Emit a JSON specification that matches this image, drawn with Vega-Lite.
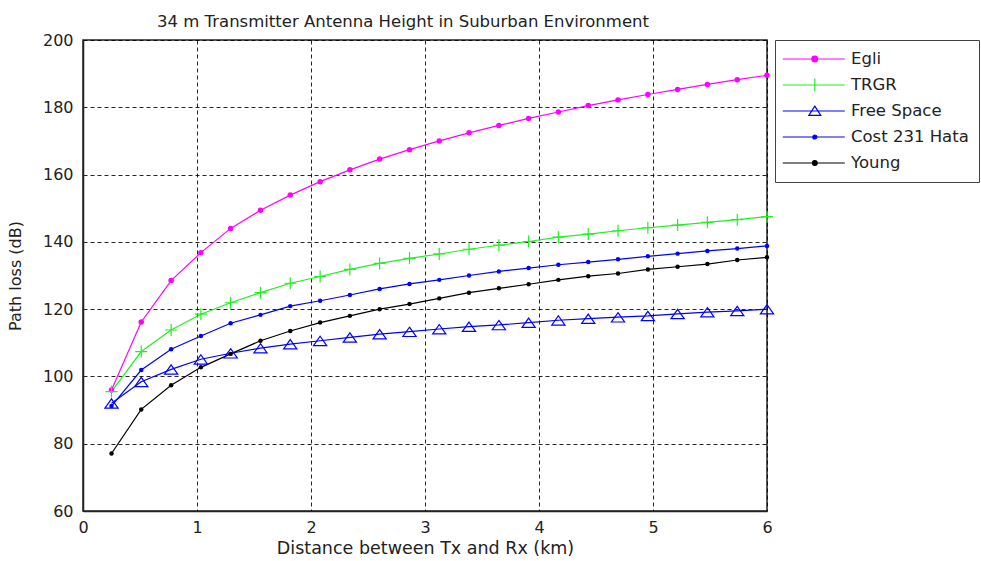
{
  "$schema": "https://vega.github.io/schema/vega-lite/v6.json",
  "width": 684,
  "height": 471,
  "autosize": {"type": "none"},
  "padding": {"left": 83, "top": 40, "right": 214, "bottom": 50},
  "title": {"text": "34 m Transmitter Antenna Height in Suburban Environment", "fontSize": 16.5, "fontWeight": "normal", "font": "DejaVu Sans", "color": "#222", "baseline": "alphabetic", "offset": 13, "dy": 24, "dx": -22},
  "data": {"values": [
    {"s":"Egli","d":0.25,"v":96},{"s":"Egli","d":0.511,"v":116.2},{"s":"Egli","d":0.773,"v":128.5},{"s":"Egli","d":1.034,"v":136.8},{"s":"Egli","d":1.295,"v":144},{"s":"Egli","d":1.557,"v":149.4},{"s":"Egli","d":1.818,"v":153.9},{"s":"Egli","d":2.08,"v":157.9},{"s":"Egli","d":2.341,"v":161.4},{"s":"Egli","d":2.602,"v":164.6},{"s":"Egli","d":2.864,"v":167.4},{"s":"Egli","d":3.125,"v":170},{"s":"Egli","d":3.386,"v":172.4},{"s":"Egli","d":3.648,"v":174.6},{"s":"Egli","d":3.909,"v":176.7},{"s":"Egli","d":4.17,"v":178.6},{"s":"Egli","d":4.432,"v":180.5},{"s":"Egli","d":4.693,"v":182.2},{"s":"Egli","d":4.955,"v":183.8},{"s":"Egli","d":5.216,"v":185.3},{"s":"Egli","d":5.477,"v":186.8},{"s":"Egli","d":5.739,"v":188.2},{"s":"Egli","d":6.0,"v":189.5},
    {"s":"TRGR","d":0.25,"v":95.5},{"s":"TRGR","d":0.511,"v":107.4},{"s":"TRGR","d":0.773,"v":113.8},{"s":"TRGR","d":1.034,"v":118.5},{"s":"TRGR","d":1.295,"v":121.9},{"s":"TRGR","d":1.557,"v":124.9},{"s":"TRGR","d":1.818,"v":127.7},{"s":"TRGR","d":2.08,"v":129.7},{"s":"TRGR","d":2.341,"v":131.8},{"s":"TRGR","d":2.602,"v":133.6},{"s":"TRGR","d":2.864,"v":135.1},{"s":"TRGR","d":3.125,"v":136.4},{"s":"TRGR","d":3.386,"v":137.8},{"s":"TRGR","d":3.648,"v":139},{"s":"TRGR","d":3.909,"v":140.1},{"s":"TRGR","d":4.17,"v":141.4},{"s":"TRGR","d":4.432,"v":142.3},{"s":"TRGR","d":4.693,"v":143.3},{"s":"TRGR","d":4.955,"v":144.2},{"s":"TRGR","d":5.216,"v":145},{"s":"TRGR","d":5.477,"v":145.8},{"s":"TRGR","d":5.739,"v":146.6},{"s":"TRGR","d":6.0,"v":147.5},
    {"s":"Free Space","d":0.25,"v":92},{"s":"Free Space","d":0.511,"v":98.4},{"s":"Free Space","d":0.773,"v":102.1},{"s":"Free Space","d":1.034,"v":105.1},{"s":"Free Space","d":1.295,"v":106.9},{"s":"Free Space","d":1.557,"v":108.4},{"s":"Free Space","d":1.818,"v":109.6},{"s":"Free Space","d":2.08,"v":110.6},{"s":"Free Space","d":2.341,"v":111.6},{"s":"Free Space","d":2.602,"v":112.6},{"s":"Free Space","d":2.864,"v":113.3},{"s":"Free Space","d":3.125,"v":114.1},{"s":"Free Space","d":3.386,"v":114.8},{"s":"Free Space","d":3.648,"v":115.3},{"s":"Free Space","d":3.909,"v":116},{"s":"Free Space","d":4.17,"v":116.7},{"s":"Free Space","d":4.432,"v":117.2},{"s":"Free Space","d":4.693,"v":117.6},{"s":"Free Space","d":4.955,"v":118},{"s":"Free Space","d":5.216,"v":118.6},{"s":"Free Space","d":5.477,"v":119.1},{"s":"Free Space","d":5.739,"v":119.5},{"s":"Free Space","d":6.0,"v":120},
    {"s":"Cost 231 Hata","d":0.25,"v":91.2},{"s":"Cost 231 Hata","d":0.511,"v":101.9},{"s":"Cost 231 Hata","d":0.773,"v":108.1},{"s":"Cost 231 Hata","d":1.034,"v":112},{"s":"Cost 231 Hata","d":1.295,"v":115.8},{"s":"Cost 231 Hata","d":1.557,"v":118.3},{"s":"Cost 231 Hata","d":1.818,"v":120.9},{"s":"Cost 231 Hata","d":2.08,"v":122.5},{"s":"Cost 231 Hata","d":2.341,"v":124.2},{"s":"Cost 231 Hata","d":2.602,"v":126},{"s":"Cost 231 Hata","d":2.864,"v":127.5},{"s":"Cost 231 Hata","d":3.125,"v":128.7},{"s":"Cost 231 Hata","d":3.386,"v":130},{"s":"Cost 231 Hata","d":3.648,"v":131.2},{"s":"Cost 231 Hata","d":3.909,"v":132.2},{"s":"Cost 231 Hata","d":4.17,"v":133.2},{"s":"Cost 231 Hata","d":4.432,"v":134},{"s":"Cost 231 Hata","d":4.693,"v":134.8},{"s":"Cost 231 Hata","d":4.955,"v":135.7},{"s":"Cost 231 Hata","d":5.216,"v":136.5},{"s":"Cost 231 Hata","d":5.477,"v":137.3},{"s":"Cost 231 Hata","d":5.739,"v":138},{"s":"Cost 231 Hata","d":6.0,"v":138.8},
    {"s":"Young","d":0.25,"v":77.1},{"s":"Young","d":0.511,"v":90.2},{"s":"Young","d":0.773,"v":97.4},{"s":"Young","d":1.034,"v":102.7},{"s":"Young","d":1.295,"v":106.7},{"s":"Young","d":1.557,"v":110.6},{"s":"Young","d":1.818,"v":113.5},{"s":"Young","d":2.08,"v":116},{"s":"Young","d":2.341,"v":118},{"s":"Young","d":2.602,"v":120},{"s":"Young","d":2.864,"v":121.5},{"s":"Young","d":3.125,"v":123.2},{"s":"Young","d":3.386,"v":124.9},{"s":"Young","d":3.648,"v":126.2},{"s":"Young","d":3.909,"v":127.4},{"s":"Young","d":4.17,"v":128.7},{"s":"Young","d":4.432,"v":129.8},{"s":"Young","d":4.693,"v":130.6},{"s":"Young","d":4.955,"v":131.8},{"s":"Young","d":5.216,"v":132.6},{"s":"Young","d":5.477,"v":133.4},{"s":"Young","d":5.739,"v":134.6},{"s":"Young","d":6.0,"v":135.4}
  ]},
  "encoding": {
    "x": {"field": "d", "type": "quantitative", "scale": {"domain": [0, 6], "nice": false},
      "axis": {"title": "Distance between Tx and Rx (km)", "values": [0,1,2,3,4,5,6], "labelFlush": false, "labelPadding": 8, "titlePadding": 4, "titleFontSize": 17.5}},
    "y": {"field": "v", "type": "quantitative", "scale": {"domain": [60, 200], "nice": false, "zero": false},
      "axis": {"title": "Path loss (dB)", "values": [60,80,100,120,140,160,180,200], "labelFlush": false, "labelPadding": 10, "titlePadding": 19, "titleFontSize": 16}},
    "color": {"field": "s", "type": "nominal",
      "scale": {"domain": ["Egli","TRGR","Free Space","Cost 231 Hata","Young"], "range": ["#ff00ff","#22ee22","#0000ff","#0000ff","#000000"]}}
  },
  "layer": [
    {
      "mark": {"type": "line", "strokeWidth": 1.2},
      "encoding": {
        "color": {"field": "s", "type": "nominal",
          "scale": {"domain": ["Egli","TRGR","Free Space","Cost 231 Hata","Young"], "range": ["#ff00ff","#22ee22","#0000ff","#0000ff","#000000"]},
          "legend": {
            "title": null, "orient": "right", "offset": 5, "padding": 10,
            "strokeColor": "#444", "fillColor": "#ffffff",
            "labelFont": "DejaVu Sans", "labelFontSize": 16.5, "labelColor": "#222",
            "symbolSize": 256, "labelOffset": 48, "rowPadding": 8,
            "encode": {"symbols": {"update": {
              "shape": {"signal": "datum.value === 'Egli' ? 'M-1.4,0H6.35M2.95,0A0.36,0.36,0,1,1,2.23,0A0.36,0.36,0,1,1,2.95,0Z' : datum.value === 'TRGR' ? 'M-1.4,0H6.35M2.6,-0.8V0.8' : datum.value === 'Free Space' ? 'M-1.4,0H6.35M2.6,-0.6L3.35,0.55L1.85,0.55Z' : datum.value === 'Cost 231 Hata' ? 'M-1.4,0H6.35M2.85,0A0.25,0.25,0,1,1,2.35,0A0.25,0.25,0,1,1,2.85,0Z' : 'M-1.4,0H6.35M2.9,0A0.3,0.3,0,1,1,2.3,0A0.3,0.3,0,1,1,2.9,0Z'"},
              "fill": {"signal": "datum.value === 'Egli' ? '#ff00ff' : datum.value === 'Cost 231 Hata' ? '#0000ff' : datum.value === 'Young' ? '#000000' : 'transparent'"},
              "stroke": {"signal": "datum.value === 'Egli' ? '#ff00ff' : datum.value === 'TRGR' ? '#22ee22' : datum.value === 'Young' ? '#000000' : '#0000ff'"},
              "fillOpacity": {"signal": "datum.value === 'Free Space' || datum.value === 'TRGR' ? 0 : 1"},
              "strokeWidth": {"value": 1.2}
            }}}
          }}
      }
    },
    {
      "transform": [{"filter": "datum.s === 'Egli'"}],
      "mark": {"type": "point", "filled": true, "shape": "circle", "size": 30, "opacity": 1},
      "encoding": {"color": {"field": "s", "type": "nominal", "legend": null}}
    },
    {
      "transform": [{"filter": "datum.s === 'Cost 231 Hata' || datum.s === 'Young'"}],
      "mark": {"type": "point", "filled": true, "shape": "circle", "size": 20, "opacity": 1},
      "encoding": {"color": {"field": "s", "type": "nominal", "legend": null}}
    },
    {
      "transform": [{"filter": "datum.s === 'TRGR'"}],
      "mark": {"type": "point", "filled": false, "shape": "M-1,0H1M0,-1V1", "size": 144, "strokeWidth": 1.2, "opacity": 1},
      "encoding": {"color": {"field": "s", "type": "nominal", "legend": null}}
    },
    {
      "transform": [{"filter": "datum.s === 'Free Space'"}],
      "mark": {"type": "point", "filled": false, "shape": "M0,-0.75L1.1,0.8L-1.1,0.8Z", "size": 144, "strokeWidth": 1.2, "opacity": 1},
      "encoding": {"color": {"field": "s", "type": "nominal", "legend": null}}
    }
  ],
  "config": {
    "font": "DejaVu Sans",
    "view": {"stroke": "#222", "strokeWidth": 1.5},
    "axis": {
      "labelFont": "DejaVu Sans", "labelFontSize": 16, "labelColor": "#222",
      "titleFont": "DejaVu Sans", "titleFontWeight": "normal", "titleColor": "#222",
      "ticks": false, "tickSize": 0,
      "domain": true, "domainColor": "#222", "domainWidth": 1.5,
      "grid": true, "gridColor": "#000", "gridDash": [4, 3], "gridWidth": 1, "gridOpacity": 0.85
    }
  }
}
